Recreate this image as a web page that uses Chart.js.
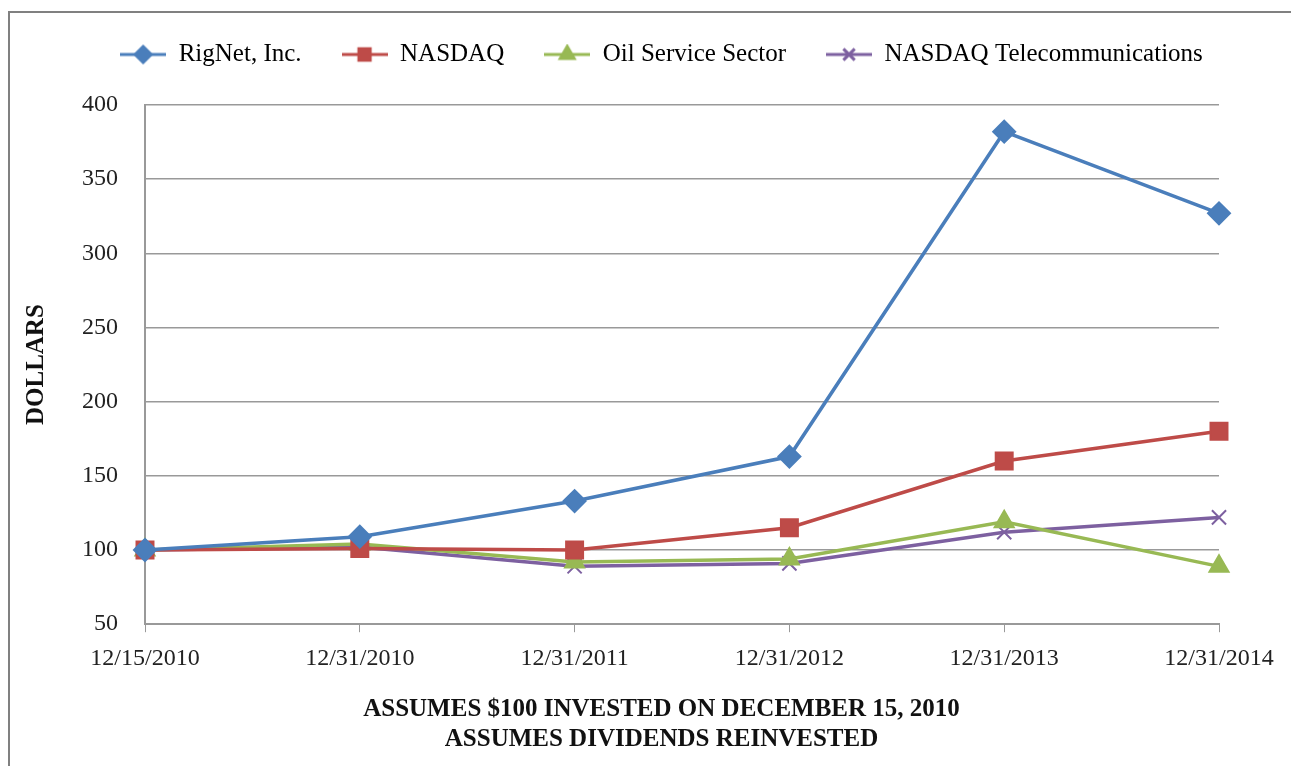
<!DOCTYPE html>
<html>
<head>
<meta charset="utf-8">
<title>RigNet - performance cumulée</title>
<script src="https://cdn.jsdelivr.net/npm/chart.js@4.4.1/dist/chart.umd.min.js"></script>
<style>
  html, body { margin: 0; padding: 0; background: #fff; overflow: hidden; }
  #cadre {
    position: absolute; left: 8px; top: 11px; width: 1400px; height: 800px;
    border-left: 2px solid #808080; border-top: 2px solid #808080;
  }
  #monGraphique { position: absolute; left: 0; top: 0; }
</style>
</head>
<body>
<div id="cadre"></div>
<canvas id="monGraphique" width="1291" height="766"></canvas>
<script>
// Données
const dates = ['12/15/2010', '12/31/2010', '12/31/2011', '12/31/2012', '12/31/2013', '12/31/2014'];
const rignet = [100, 109, 133, 163, 382, 327];
const nasdaq = [100, 101, 100, 115, 160, 180];
const oilService = [100, 104, 92, 94, 119, 89];
const nasdaqTelecom = [100, 102, 89, 91, 112, 122];
const yTicks = [50, 100, 150, 200, 250, 300, 350, 400];
const notes = ['ASSUMES $100 INVESTED ON DECEMBER 15, 2010', 'ASSUMES DIVIDENDS REINVESTED'];

const police = "'Liberation Serif', 'DejaVu Serif', serif";

// petite image pour la légende : trait + marqueur
function iconeLegende(couleur, forme) {
  const c = document.createElement('canvas');
  c.width = 46;
  c.height = 22;
  const g = c.getContext('2d');
  g.strokeStyle = couleur;
  g.fillStyle = couleur;
  g.lineWidth = 3;
  g.beginPath();
  g.moveTo(0, 11);
  g.lineTo(46, 11);
  g.stroke();
  Chart.helpers.drawPoint(g, { pointStyle: forme, radius: 8, borderWidth: 2 }, 23, 11);
  g.fill();
  return c;
}

function serie(label, data, couleur, forme, rayon) {
  return {
    label: label,
    data: data,
    borderColor: couleur,
    backgroundColor: couleur,
    borderWidth: 3.5,
    pointStyle: forme,
    pointRadius: rayon,
    pointHoverRadius: rayon,
    pointBorderWidth: 2,
    pointBorderColor: couleur,
    pointBackgroundColor: couleur,
    tension: 0,
    icone: iconeLegende(couleur, forme)
  };
}

// un peu d'espace sous la légende, légende et notes décalées vers la droite
const margeLegende = {
  id: 'margeLegende',
  beforeInit(chart) {
    const fitOrig = chart.legend.fit;
    chart.legend.fit = function () {
      fitOrig.bind(chart.legend)();
      this.height += 28;
    };
  },
  afterLayout(chart) {
    chart.legend.left += 41;
    chart.legend.right += 41;
    chart.titleBlock.left += 41;
    chart.titleBlock.right += 41;
  }
};

const ctx = document.getElementById('monGraphique').getContext('2d');
const monGraphique = new Chart(ctx, {
  type: 'line',
  data: {
    labels: dates,
    datasets: [
      serie('RigNet, Inc.', rignet, '#4a7ebb', 'rectRot', 11),
      serie('NASDAQ', nasdaq, '#be4b48', 'rect', 12),
      serie('Oil Service Sector', oilService, '#98b954', 'triangle', 11),
      serie('NASDAQ Telecommunications', nasdaqTelecom, '#7d60a0', 'crossRot', 10)
    ]
  },
  plugins: [margeLegende],
  options: {
    responsive: false,
    animation: false,
    layout: { padding: { top: 2, left: 22, right: 72, bottom: 11 } },
    plugins: {
      tooltip: { enabled: false },
      title: {
        display: true,
        position: 'bottom',
        text: notes,
        color: '#111',
        font: { family: police, size: 25, weight: 'bold', lineHeight: 1.2 },
        padding: { top: 10, bottom: 0 }
      },
      legend: {
        position: 'top',
        labels: {
          usePointStyle: true,
          pointStyleWidth: 46,
          padding: 40,
          color: '#222',
          font: { family: police, size: 25 },
          generateLabels: function (chart) {
            return chart.data.datasets.map((ds, i) => ({
              text: ds.label,
              pointStyle: ds.icone,
              fillStyle: ds.borderColor,
              strokeStyle: ds.borderColor,
              lineWidth: 0,
              hidden: false,
              datasetIndex: i
            }));
          }
        }
      }
    },
    scales: {
      x: {
        offset: false,
        grid: { drawOnChartArea: false, drawTicks: true, tickLength: 8, color: '#999' },
        border: { color: '#999', width: 2 },
        ticks: { color: '#222', font: { family: police, size: 24 }, maxRotation: 0, padding: 12 }
      },
      y: {
        min: 50,
        max: 400,
        afterBuildTicks: axe => { axe.ticks = yTicks.map(v => ({ value: v })); },
        grid: { color: '#999', lineWidth: 1.5, drawTicks: false },
        border: { color: '#999', width: 2 },
        ticks: { color: '#222', font: { family: police, size: 24 }, padding: 27 },
        title: {
          display: true,
          text: 'DOLLARS',
          color: '#111',
          font: { family: police, size: 25, weight: 'bold' },
          padding: { top: 0, bottom: 3 }
        }
      }
    }
  }
});
</script>
</body>
</html>
